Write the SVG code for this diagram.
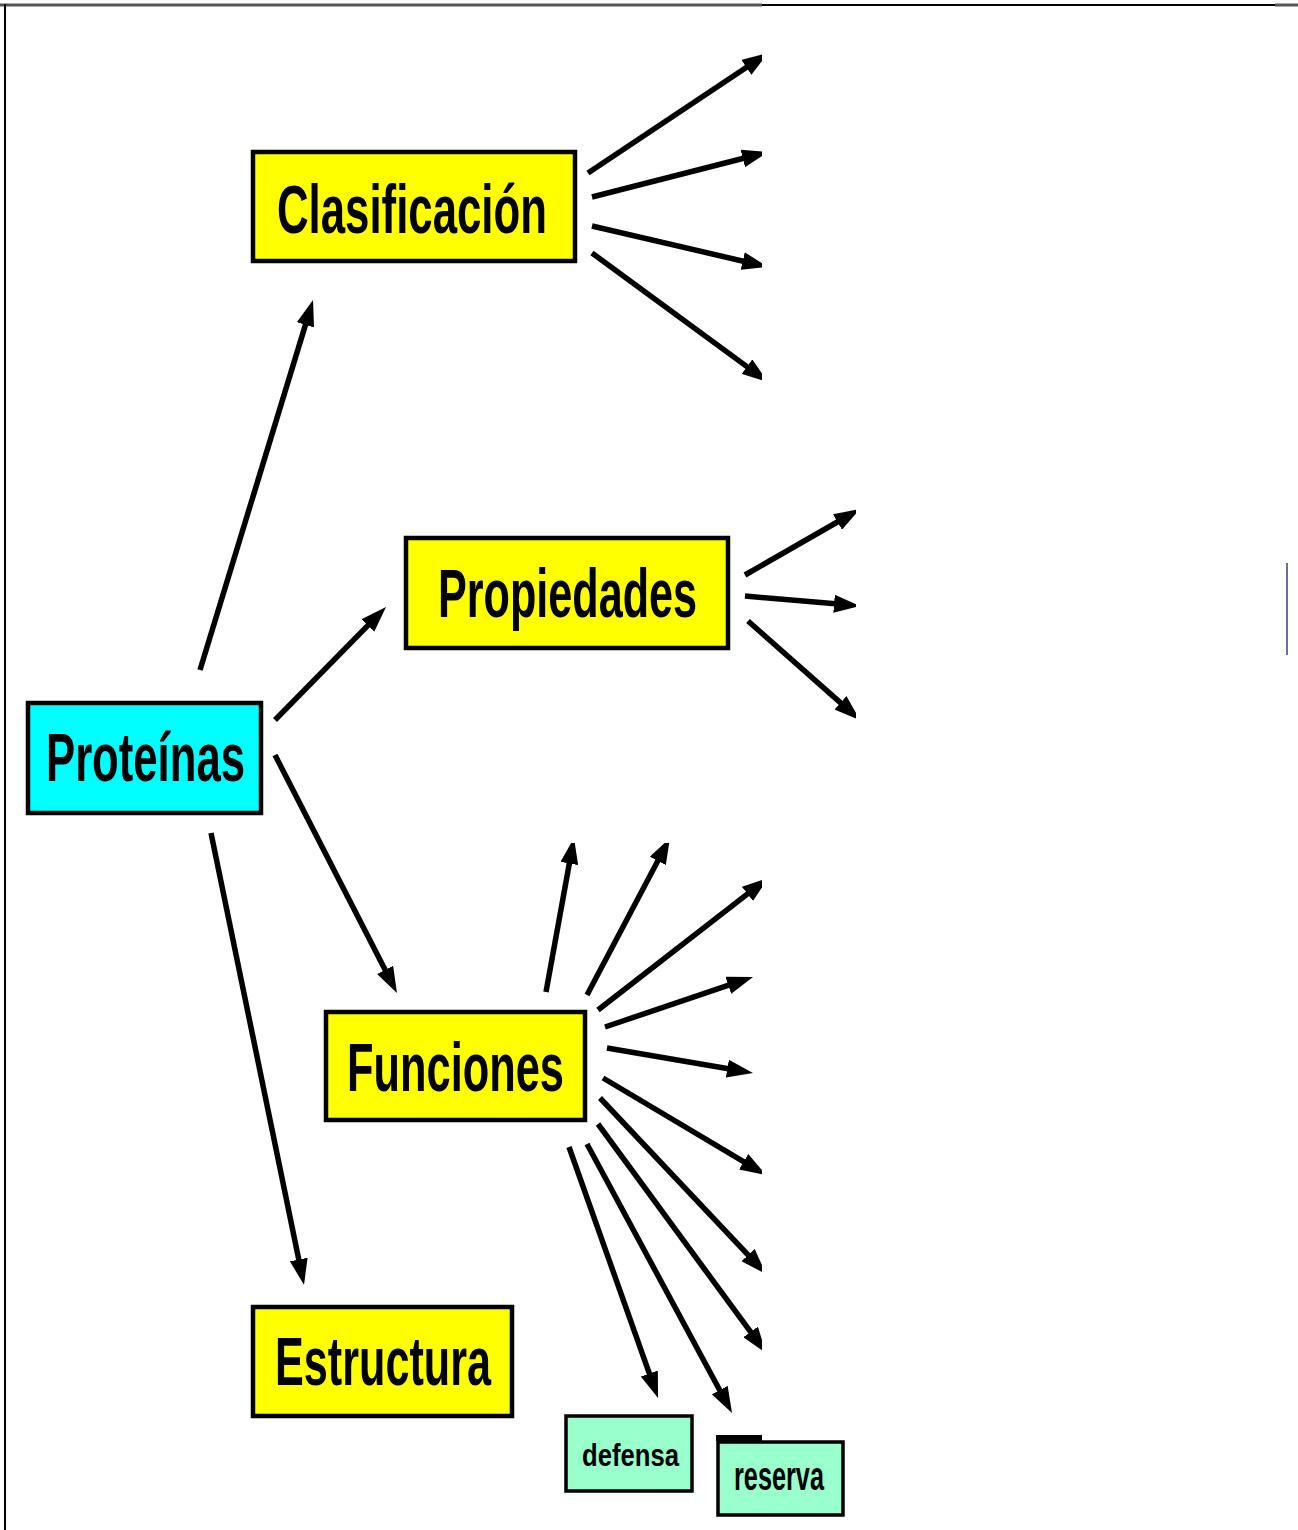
<svg xmlns="http://www.w3.org/2000/svg" width="1298" height="1530" viewBox="0 0 1298 1530">
  <style>
    .box { stroke: #000; stroke-width: 4.5; }
    .main { fill: #ffff00; }
    .root { fill: #00ffff; }
    .leaf { fill: #99ffcc; stroke: #000; stroke-width: 3.5; }
    .label { font-family: "Liberation Sans", Arial, sans-serif; font-weight: bold; fill: #000; }
    .big { font-size: 68px; }
    .conn line { stroke: #000; stroke-width: 5.5; marker-end: url(#head); }
  </style>
  <defs>
    <marker id="head" markerUnits="userSpaceOnUse" viewBox="0 0 26 18" markerWidth="26" markerHeight="18" refX="16" refY="9" orient="auto">
      <path d="M0,0 L26,9 L0,18 z" fill="#000"/>
    </marker>
    <!-- visible area for the arrows: heads that reach the blank margins are cut off -->
    <clipPath id="arrowArea">
      <rect x="0" y="0" width="762" height="800"/>
      <rect x="0" y="843" width="762" height="687"/>
      <rect x="0" y="800" width="540" height="43"/>
      <rect x="762" y="490" width="94" height="240"/>
    </clipPath>
  </defs>

  <rect x="0" y="0" width="1298" height="1530" fill="#fff"/>

  <!-- frame -->
  <g id="frame" fill="none">
    <line x1="0" y1="5" x2="762" y2="5" stroke="#555" stroke-width="3"/>
    <line x1="762" y1="5" x2="1275" y2="5" stroke="#000" stroke-width="2"/>
    <line x1="1275" y1="5" x2="1298" y2="5" stroke="#555" stroke-width="3"/>
    <line x1="5" y1="4" x2="5" y2="1530" stroke="#000" stroke-width="2"/>
    <line x1="1287" y1="563" x2="1287" y2="655" stroke="#6e6e9c" stroke-width="2"/>
  </g>

  <!-- connectors -->
  <g id="connectors" class="conn" clip-path="url(#arrowArea)">
    <!-- from Proteínas -->
    <line x1="200" y1="670" x2="310.1" y2="309.6"/>
    <line x1="275" y1="720" x2="379" y2="614.1"/>
    <line x1="275" y1="755" x2="392.4" y2="984.1"/>
    <line x1="211" y1="833" x2="302" y2="1275.2"/>
    <!-- from Clasificación -->
    <line x1="588" y1="173" x2="759.7" y2="58.5"/>
    <line x1="592" y1="197" x2="758.3" y2="154.5"/>
    <line x1="592" y1="226" x2="758.3" y2="264.7"/>
    <line x1="592" y1="253" x2="759.9" y2="376.1"/>
    <!-- from Propiedades -->
    <line x1="745" y1="575" x2="851.3" y2="514"/>
    <line x1="745" y1="596" x2="850" y2="605.1"/>
    <line x1="748" y1="621" x2="852.5" y2="713.4"/>
    <!-- from Funciones -->
    <line x1="546" y1="992" x2="572.2" y2="847.8"/>
    <line x1="587" y1="995" x2="665.3" y2="846.8"/>
    <line x1="598" y1="1010" x2="760.1" y2="884.1"/>
    <line x1="605" y1="1027" x2="743.5" y2="980.2"/>
    <line x1="607" y1="1048" x2="743.1" y2="1071.3"/>
    <line x1="603" y1="1078" x2="757.4" y2="1169.9"/>
    <line x1="600" y1="1098" x2="759.1" y2="1266.7"/>
    <line x1="598" y1="1124" x2="760.1" y2="1344.9"/>
    <line x1="587" y1="1144" x2="727.3" y2="1404.2"/>
    <line x1="569" y1="1147" x2="654.7" y2="1388.6"/>
  </g>

  <!-- nodes -->
  <g id="clasificacion">
    <rect class="box main" x="253" y="152" width="322" height="109"/>
    <text class="label big" x="277" y="233" textLength="270" lengthAdjust="spacingAndGlyphs">Clasificación</text>
  </g>
  <g id="propiedades">
    <rect class="box main" x="406" y="538" width="322" height="110"/>
    <text class="label big" x="438" y="617" textLength="259" lengthAdjust="spacingAndGlyphs">Propiedades</text>
  </g>
  <g id="proteinas">
    <rect class="box root" x="28" y="703" width="233" height="110"/>
    <text class="label big" x="46" y="781" textLength="199" lengthAdjust="spacingAndGlyphs">Proteínas</text>
  </g>
  <g id="funciones">
    <rect class="box main" x="326" y="1012" width="259" height="108"/>
    <text class="label big" x="347" y="1091" textLength="217" lengthAdjust="spacingAndGlyphs">Funciones</text>
  </g>
  <g id="estructura">
    <rect class="box main" x="253" y="1307" width="259" height="109"/>
    <text class="label big" x="275" y="1385" textLength="216" lengthAdjust="spacingAndGlyphs">Estructura</text>
  </g>
  <g id="defensa">
    <rect class="leaf" x="566" y="1416" width="126" height="75"/>
    <text class="label" x="582" y="1466" font-size="31" textLength="97" lengthAdjust="spacingAndGlyphs">defensa</text>
  </g>
  <g id="reserva">
    <rect class="leaf" x="718" y="1442" width="125" height="73"/>
    <rect x="716" y="1435" width="46" height="6" fill="#000"/>
    <text class="label" x="734" y="1490" font-size="40" textLength="90" lengthAdjust="spacingAndGlyphs">reserva</text>
  </g>
</svg>
